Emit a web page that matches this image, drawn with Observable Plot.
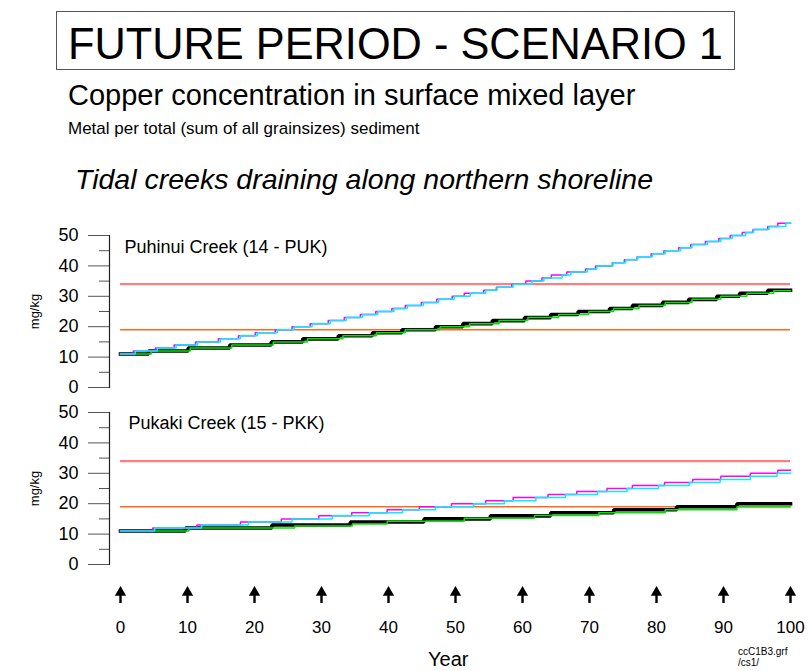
<!DOCTYPE html>
<html><head><meta charset="utf-8">
<script src="https://cdn.jsdelivr.net/npm/d3@7"></script>
<script src="https://cdn.jsdelivr.net/npm/@observablehq/plot@0.6"></script>
<style>
body{margin:0;background:#fff;}
#wrap{position:relative;width:808px;height:671px;font-family:"Liberation Sans",Arial,sans-serif;color:#000;overflow:hidden;background:#fff;}
.abs{position:absolute;white-space:nowrap;line-height:1;}
#box{left:56px;top:11px;width:679px;height:59px;border:1px solid #555;box-sizing:border-box;}
#title{left:68px;top:21px;font-size:45px;transform:scaleX(0.963);transform-origin:0 0;}
#sub1{left:68px;top:81px;font-size:29px;}
#sub2{left:68px;top:120px;font-size:17px;}
#sub3{left:75px;top:165px;font-size:28.5px;font-style:italic;}
#yearlab{left:428px;top:649px;font-size:20px;}
#foot1{left:738px;top:647px;font-size:10px;}
#foot2{left:738px;top:658px;font-size:10px;}
.plot{position:absolute;left:0;}
.plot svg{overflow:visible;}
</style>
</head><body>
<div id="wrap">
  <div class="abs" id="box"></div>
  <div class="abs" id="title">FUTURE PERIOD - SCENARIO 1</div>
  <div class="abs" id="sub1">Copper concentration in surface mixed layer</div>
  <div class="abs" id="sub2">Metal per total (sum of all grainsizes) sediment</div>
  <div class="abs" id="sub3">Tidal creeks draining along northern shoreline</div>
  <div class="plot" id="pTop" style="top:205px"></div>
  <div class="plot" id="pBot" style="top:395px"></div>
  <div class="plot" id="pAxis" style="top:580px"></div>
  <div class="abs" id="yearlab">Year</div>
  <div class="abs" id="foot1">ccC1B3.grf</div>
  <div class="abs" id="foot2">/cs1/</div>
</div>
<script>
// ---------- data ----------
const xDomain = [0, 100];
const yDomain = [0, 50];
const xTicks = [0, 10, 20, 30, 40, 50, 60, 70, 80, 90, 100];
const yMajorTicks = [0, 10, 20, 30, 40, 50];
const yMinorTicks = [5, 15, 25, 35, 45];
const guideValues = [34, 19];
const guideColors = ["#ff7f7f", "#ff6a1a"];
const guideWidths = [2.2, 1.6];

const panelNames = ["Puhinui Creek (14 - PUK)", "Pukaki Creek (15 - PKK)"];
const yUnit = "mg/kg";

// Puhinui Creek (top panel)
const pukBlackYears = [0,4.2,10.1,16.3,22.5,27.2,32.5,37.6,42,47,51.1,55.5,60.3,64.2,68.3,73,76.4,80.9,84.8,89,92.4,96.6,100];
const pukBlackVals  = [11,12,13,14,15,16,17,18,19,20,21,22,23,24,25,26,27,28,29,30,31,32,32];
const pukGreenYears = [0,4.6,10.4,16.6,22.8,27.9,33.2,38.2,42.5,47.7,52.1,56.5,60.8,65.4,69.9,73.6,77.4,81.3,85.3,89.6,93.5,97.5,100];
const pukGreenVals  = [11,12,13,14,15,16,17,18,19,20,21,22,23,24,25,26,27,28,29,30,31,31.8,31.8];
const pukMagentaYears = [0,1.9,5.2,8.0,11.2,14.6,17.6,20.1,23.1,25.6,28.3,31.0,33.4,35.8,38.1,40.5,42.5,44.9,47.2,49.5,51.3,54.2,56.1,58.4,60.5,62.9,64.3,66.6,69.4,70.9,73.4,75.2,77.1,79.2,81.1,83.3,85.1,87.3,89.3,91.0,92.8,94.4,96.6,98.1,100];
const pukMagentaVals  = [11,12,13,14,15,16,17,18,19,20,21,22,23,24,25,26,27,28,29,30,31,32,33,34,35,36,37,38,39,40,41,42,43,44,45,46,47,48,49,50,51,52,53,54,54];
const pukCyanYears = [0,2.2,5.5,8.3,11.5,14.9,17.9,20.4,23.4,25.9,28.6,31.3,33.7,36.1,38.4,40.8,42.8,45.2,47.5,49.8,52.2,54.5,56.2,58.6,61.4,63.2,65.9,67.2,69.7,71.1,73.5,75.4,77.2,79.4,81.3,83.6,85.3,87.6,89.6,91.3,93.3,94.5,96.8,99.3,100];
const pukCyanVals  = [11,12,13,14,15,16,17,18,19,20,21,22,23,24,25,26,27,28,29,30,31,32,33,34,35,36,37,38,39,40,41,42,43,44,45,46,47,48,49,50,51,52,53,54,54];

// Pukaki Creek (bottom panel)
const pkkBlackYears = [0,9.7,22.6,34.3,45.3,55.2,64.2,73.6,83,92,100];
const pkkBlackVals  = [11,12,13,14,15,16,17,18,19,20,20];
const pkkGreenYears = [0,10.2,26,34.6,39.8,51.3,61.8,71.4,81.3,92,100];
const pkkGreenVals  = [11,12,12.7,13.3,14.2,15.2,16.1,17,18,19,19];
const pkkMagentaYears = [0,4.8,11.4,17.9,24,29.6,34.5,39.8,44.6,49.4,54.5,58.6,63.8,68.1,72.6,76.4,81.2,85.4,89.6,94,98.1,100];
const pkkMagentaVals  = [11,12,13,14,15,16,17,18,19,20,21,22,23,24,25,26,27,28,29,30,31,31];
const pkkCyanYears = [0,5.1,12.1,19.1,25.6,31.6,37.1,42.1,47,52.7,57.3,62,66.4,71.2,75.6,80.3,84.9,89.5,94,98,100];
const pkkCyanVals  = [11,12,13,14,15,16,17,18,19,20,21,22,23,24,25,26,27,28,29,30,30];

const seriesColors = {black: "#000000", green: "#00e600", magenta: "#ff00ff", cyan: "#00f0ff"};
const seriesWidths = {black: 3.6, green: 1.5, magenta: 1.5, cyan: 1.5};

// ---------- drawing ----------
const FONT = '"Liberation Sans", Arial, sans-serif';
const pts = (xs, ys) => xs.map((x, i) => ({x, y: ys[i]}));

function stepLine(xs, ys, key) {
  return Plot.line(pts(xs, ys), {x: "x", y: "y", curve: "step-after",
    stroke: seriesColors[key], strokeWidth: seriesWidths[key], strokeLinejoin: "miter", strokeLinecap: "square"});
}

function panel(el, name, series, marginTop, height, lab) {
  const chart = Plot.plot({
    width: 808, height, marginLeft: 109, marginRight: 18, marginTop, marginBottom: 5,
    x: {domain: xDomain, insetLeft: 11, axis: null},
    y: {domain: yDomain, axis: null},
    style: {fontFamily: FONT, overflow: "visible", background: "transparent"},
    marks: [
      Plot.axisY({ticks: yMajorTicks, tickSize: 21, tickPadding: 10, fontSize: 18, label: null, stroke: "#555", color: "#000"}),
      Plot.axisY({ticks: yMinorTicks, tickSize: 10, tickFormat: () => "", label: null, stroke: "#555"}),
      Plot.frame({anchor: "left", stroke: "#222", strokeWidth: 1.2}),
      ...guideValues.map((v, i) => Plot.ruleY([v], {y: d => d, x1: () => xDomain[0], x2: () => xDomain[1], stroke: guideColors[i], strokeWidth: guideWidths[i]})),
      stepLine(series.black[0], series.black[1], "black"),
      stepLine(series.green[0], series.green[1], "green"),
      stepLine(series.magenta[0], series.magenta[1], "magenta"),
      stepLine(series.cyan[0], series.cyan[1], "cyan"),
      Plot.text([name], {frameAnchor: "top-left", dx: lab[0], dy: lab[1], fontSize: 18, fill: "#000"}),
      Plot.text([yUnit], {frameAnchor: "left", rotate: -90, dx: -75, textAnchor: "middle", lineAnchor: "middle", fontSize: 13, fill: "#000"})
    ]
  });
  document.getElementById(el).append(chart);
}

panel("pTop", panelNames[0], {
  black: [pukBlackYears, pukBlackVals], green: [pukGreenYears, pukGreenVals],
  magenta: [pukMagentaYears, pukMagentaVals], cyan: [pukCyanYears, pukCyanVals]
}, 30, 187, [15, 5]);

panel("pBot", panelNames[1], {
  black: [pkkBlackYears, pkkBlackVals], green: [pkkGreenYears, pkkGreenVals],
  magenta: [pkkMagentaYears, pkkMagentaVals], cyan: [pkkCyanYears, pkkCyanVals]
}, 17, 174, [19, 4]);

const axisChart = Plot.plot({
  width: 808, height: 63, marginLeft: 109, marginRight: 18, marginTop: 12, marginBottom: 40,
  x: {domain: xDomain, insetLeft: 11, axis: null},
  y: {domain: [0, 1], axis: null},
  style: {fontFamily: FONT, overflow: "visible", background: "transparent"},
  marks: [
    Plot.ruleX(xTicks, {x: d => d, y1: () => 0, y2: () => 0.85, stroke: "#000", strokeWidth: 2.4}),
    Plot.dot(xTicks, {x: d => d, y: () => 1, symbol: "triangle", r: 4.2, fill: "#000", stroke: "none"}),
    Plot.axisX({ticks: xTicks, tickSize: 0, tickPadding: 17, fontSize: 17, label: null, color: "#000"})
  ]
});
document.getElementById("pAxis").append(axisChart);
</script>
</body></html>
